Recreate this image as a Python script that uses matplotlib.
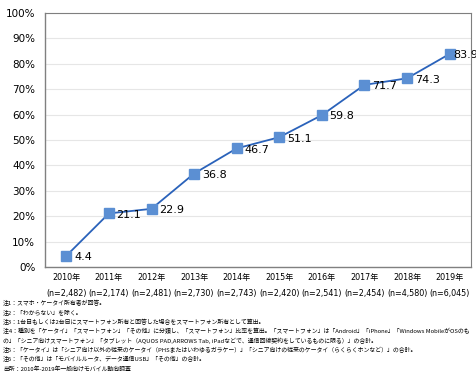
import matplotlib
matplotlib.use("Agg")
import matplotlib.pyplot as plt

plt.rcParams['font.family'] = ['DejaVu Sans', 'Noto Sans CJK JP']

years = ["2010年", "2011年", "2012年", "2013年", "2014年", "2015年", "2016年", "2017年", "2018年", "2019年"]
ns = ["(n=2,482)", "(n=2,174)", "(n=2,481)", "(n=2,730)", "(n=2,743)", "(n=2,420)", "(n=2,541)", "(n=2,454)", "(n=4,580)", "(n=6,045)"]
values = [4.4, 21.1, 22.9, 36.8, 46.7, 51.1, 59.8, 71.7, 74.3, 83.9]
yticks = [0, 10, 20, 30, 40, 50, 60, 70, 80, 90, 100]
notes = [
    "注1：スマホ・ケータイ所有者が回答。",
    "注2：「わからない」を除く。",
    "注3：1台目もしくは2台目にスマートフォン所有と回答した場合をスマートフォン所有として算出。",
    "注4：種別を「ケータイ」「スマートフォン」「その他」に分類し、「スマートフォン」比率を算出。「スマートフォン」は「Android」「iPhone」「Windows MobileがOSのも",
    "の」「シニア向けスマートフォン」「タブレット（AQUOS PAD,ARROWS Tab, iPadなどで、通信回線契約をしているものに限る）」の合計。",
    "注5：「ケータイ」は「シニア向け以外の従来のケータイ（PHSまたはいわゆるガラケー）」「シニア向けの従来のケータイ（らくらくホンなど）」の合計。",
    "注6：「その他」は「モバイルルータ、データ通信USB」「その他」の合計。",
    "出所：2010年-2019年一般向けモバイル動向調査",
]

W, H = 477, 373
fig = plt.figure(figsize=(W/100, H/100), dpi=100)
ax = fig.add_axes([45/W, 1-267/H, 426/W, 254/H])

x = list(range(len(values)))
ax.plot(x, values, color='#2A62BA', lw=1.3, marker='s', markersize=7,
        markerfacecolor='#5B8FD3', markeredgecolor='#5B8FD3', zorder=3)
for xi, v in zip(x, values):
    off = 2.5 if xi == len(values) - 1 else 5.5
    ax.annotate(f"{v:.1f}", (xi, v), xytext=(off, -1), textcoords='offset points',
                ha='left', va='center', fontsize=8, color='black', annotation_clip=False)

ax.set_xlim(-0.5, len(values) - 0.5)
ax.set_ylim(0, 100)
ax.set_yticks(yticks)
ax.set_yticklabels([f"{t}%" for t in yticks], fontsize=7.5)
ax.set_xticks(x)
ax.set_xticklabels([f"{y}\n{n}" for y, n in zip(years, ns)], fontsize=5.8, linespacing=2.0)
ax.tick_params(axis='both', length=0, pad=4)
ax.tick_params(axis='y', pad=7)
ax.yaxis.grid(True, color='#E6E6E6', lw=0.8)
ax.set_axisbelow(True)
for s in ['top', 'right']:
    ax.spines[s].set_color('#7F7F7F')
    ax.spines[s].set_linewidth(0.8)
for s in ['left', 'bottom']:
    ax.spines[s].set_color('#808080')
    ax.spines[s].set_linewidth(1.0)

# fit note font size so the longest line spans like the reference
fig.canvas.draw()
renderer = fig.canvas.get_renderer()
probe = fig.text(0, 0, notes[3], fontsize=10, family=['Noto Sans CJK JP', 'DejaVu Sans'])
wpx = probe.get_window_extent(renderer).width
probe.remove()
fs = 10 * 470 / wpx

y0 = 303
for i, t in enumerate(notes):
    fig.text(3/W, 1 - (y0 + i*9.4)/H, t, fontsize=fs, va='center', ha='left',
             family=['Noto Sans CJK JP', 'DejaVu Sans'])

fig.savefig("out.png", dpi=100)
